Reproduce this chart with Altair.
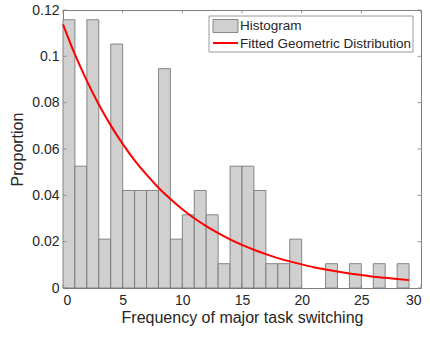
import altair as alt
import pandas as pd

# Histogram bins (left edges, width 1) and proportions
bin_left = list(range(29))
proportion = [0.1158, 0.0526, 0.1158, 0.0211, 0.1053, 0.0421, 0.0421, 0.0421,
              0.0947, 0.0211, 0.0316, 0.0421, 0.0316, 0.0105, 0.0526, 0.0526,
              0.0421, 0.0105, 0.0105, 0.0211, 0.0, 0.0, 0.0105, 0.0, 0.0105,
              0.0, 0.0105, 0.0, 0.0105]

# Fitted geometric curve read at integer points
curve_x = list(range(30))
curve_y = [0.1138, 0.1008, 0.0894, 0.0792, 0.0702, 0.0622, 0.0551, 0.0489,
           0.0433, 0.0384, 0.0340, 0.0301, 0.0267, 0.0237, 0.0210, 0.0186,
           0.0165, 0.0146, 0.0129, 0.0115, 0.0102, 0.0090, 0.0080, 0.0071,
           0.0063, 0.0056, 0.0049, 0.0044, 0.0039, 0.0034]

x_ticks = [0, 5, 10, 15, 20, 25, 30]
y_ticks = [0, 0.02, 0.04, 0.06, 0.08, 0.1, 0.12]

legend_labels = ["Histogram", "Fitted Geometric Distribution"]

W, H = 358, 278
FONT = "Liberation Sans"
TXT = "#262626"
FRAME = "#808080"

bars_df = pd.DataFrame({"x": bin_left, "x2": [b + 1 for b in bin_left], "p": proportion})
bars_df = bars_df[bars_df["p"] > 0]
curve_df = pd.DataFrame({"x": curve_x, "y": curve_y})
xt_df = pd.DataFrame({"t": x_ticks})
yt_df = pd.DataFrame({"t": y_ticks})
one = pd.DataFrame({"k": [0]})

xscale = alt.Scale(domain=[0, 30], nice=False, zero=False)
yscale = alt.Scale(domain=[0, 0.12], nice=False)

bars = alt.Chart(bars_df).mark_rect(
    fill="#d0d0d0", stroke="#6e6e6e", strokeWidth=0.8
).encode(
    x=alt.X("x:Q", scale=xscale,
            axis=alt.Axis(values=x_ticks, title="Frequency of major task switching",
                          ticks=False, domain=False, grid=False, labelPadding=5,
                          titlePadding=2, format="d")),
    x2="x2:Q",
    y=alt.Y("p:Q", scale=yscale,
            axis=alt.Axis(values=y_ticks, title="Proportion", ticks=False,
                          domain=False, grid=False, labelPadding=4,
                          labelExpr="format(datum.value, '.2~f')",
                          titlePadding=6)),
    y2=alt.datum(0),
)

curve = alt.Chart(curve_df).mark_line(
    color="#ff0000", strokeWidth=2, interpolate="monotone"
).encode(x=alt.X("x:Q", scale=xscale), y=alt.Y("y:Q", scale=yscale))

# inward ticks (box style)
tl = 3.5
xt_bottom = alt.Chart(xt_df).mark_rule(color=FRAME, strokeWidth=0.8).encode(
    x=alt.X("t:Q", scale=xscale), y=alt.value(H), y2=alt.value(H - tl))
xt_top = alt.Chart(xt_df).mark_rule(color=FRAME, strokeWidth=0.8).encode(
    x=alt.X("t:Q", scale=xscale), y=alt.value(0), y2=alt.value(tl))
yt_left = alt.Chart(yt_df).mark_rule(color=FRAME, strokeWidth=0.8).encode(
    y=alt.Y("t:Q", scale=yscale), x=alt.value(0), x2=alt.value(tl))
yt_right = alt.Chart(yt_df).mark_rule(color=FRAME, strokeWidth=0.8).encode(
    y=alt.Y("t:Q", scale=yscale), x=alt.value(W), x2=alt.value(W - tl))

# legend box
lx0, lx1, ly0, ly1 = 146, 350, 6, 42
leg_box = alt.Chart(one).mark_rect(fill="white", stroke=FRAME, strokeWidth=0.8).encode(
    x=alt.value(lx0), x2=alt.value(lx1), y=alt.value(ly0), y2=alt.value(ly1))
leg_swatch = alt.Chart(one).mark_rect(fill="#d0d0d0", stroke="#6e6e6e", strokeWidth=0.8).encode(
    x=alt.value(150), x2=alt.value(175), y=alt.value(9.5), y2=alt.value(22.5))
leg_line = alt.Chart(one).mark_rule(color="#ff0000", strokeWidth=2).encode(
    x=alt.value(150), x2=alt.value(175), y=alt.value(33))
leg_t1 = alt.Chart(one).mark_text(
    text=legend_labels[0], align="left", baseline="middle", font=FONT,
    fontSize=13.5, color=TXT).encode(x=alt.value(177), y=alt.value(16))
leg_t2 = alt.Chart(one).mark_text(
    text=legend_labels[1], align="left", baseline="middle", font=FONT,
    fontSize=13.5, color=TXT).encode(x=alt.value(177), y=alt.value(33.5))

chart = alt.layer(
    bars, curve, xt_bottom, xt_top, yt_left, yt_right,
    leg_box, leg_swatch, leg_line, leg_t1, leg_t2
).properties(
    width=W, height=H,
    autosize=alt.AutoSizeParams(type="none"),
    padding={"left": 63, "top": 10, "right": 9, "bottom": 49},
    background="white",
).configure_view(
    stroke=FRAME, strokeWidth=1
).configure_axis(
    labelFont=FONT, titleFont=FONT, labelFontSize=14, titleFontSize=16,
    labelColor=TXT, titleColor=TXT, titleFontWeight="normal"
)

chart.save("out.html", embed_options={"renderer": "svg", "actions": False})
